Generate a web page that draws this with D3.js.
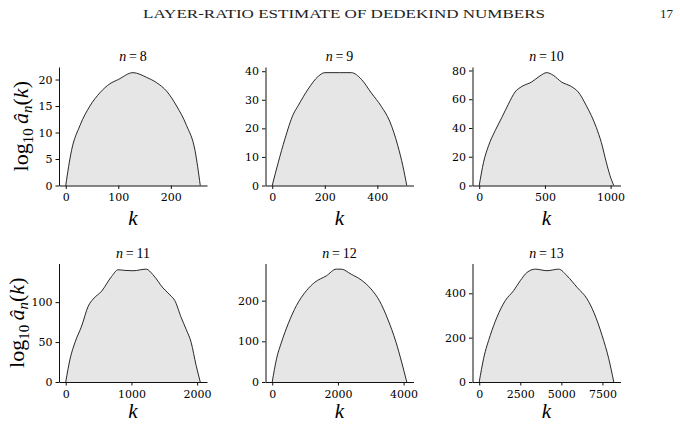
<!DOCTYPE html>
<html>
<head>
<meta charset="utf-8">
<script src="https://cdn.jsdelivr.net/npm/d3@7"></script>
<style>
  body { margin: 0; background: #fff; }
  svg { display: block; }
  .tick text { font-family: "DejaVu Serif", serif; font-size: 11px; fill: #000; }
  .domain, .tick line { stroke: #111; stroke-width: 1; }
</style>
</head>
<body>
<svg id="chart" width="680" height="425"></svg>
<script>
// Values: k and log10 a_n(k)
const n8K = [0, 11, 27, 46, 65, 84, 100, 128, 154, 173, 192, 211, 230, 246, 256]
const n8V = [0, 6.6, 11.3, 15, 17.5, 19.2, 20, 21.3, 20.4, 19.4, 17.8, 15, 11.3, 6.6, 0]

const n9K = [0, 23, 48, 80, 99, 137, 175, 200, 256, 301, 339, 377, 415, 447, 478, 497, 512]
const n9V = [0, 8.1, 16.2, 24.9, 28, 33.8, 38.2, 39.5, 39.5, 39.5, 37.2, 32.4, 27.7, 22.5, 13.9, 6.9, 0]

const n10K = [0, 33, 71, 121, 172, 222, 273, 323, 399, 462, 513, 563, 626, 702, 753, 816, 891, 929, 967, 995, 1024]
const n10V = [0, 16.2, 27.7, 38.1, 47.3, 56.6, 65.1, 68.8, 72, 76.2, 78.5, 76.7, 72, 68.8, 65.1, 55.4, 40.4, 30, 16.2, 7, 0]

const n11K = [0, 66, 141, 242, 343, 419, 545, 697, 798, 899, 1025, 1227, 1328, 1480, 1606, 1657, 1758, 1833, 1909, 1985, 2048]
const n11V = [0, 28.9, 49.6, 70, 95, 104, 113.6, 132, 140.5, 139.7, 139.3, 141.3, 134.3, 117.8, 107.4, 102.5, 80.6, 66, 49.6, 20.7, 0]

const n12K = [0, 131, 283, 485, 737, 1040, 1293, 1646, 1949, 2101, 2404, 2707, 3010, 3262, 3515, 3768, 3939, 4096]
const n12V = [0, 57, 98, 143, 188, 224.5, 245, 261, 277.5, 277.5, 265, 251, 228.6, 200, 155, 98, 49, 0]

const n13K = [0, 264, 671, 1077, 1585, 2093, 2500, 2907, 3415, 4126, 4837, 5346, 5955, 6565, 6972, 7480, 7886, 8192]
const n13V = [0, 105, 210, 292, 367, 412, 457, 494, 509, 502, 509, 479, 427, 375, 315, 210, 105, 0]

// Tick labels
const xTicks = [[0, 100, 200], [0, 200, 400], [0, 500, 1000], [0, 1000, 2000], [0, 2000, 4000], [0, 2500, 5000, 7500]]
const yTicks = [[0, 5, 10, 15, 20], [0, 10, 20, 30, 40], [0, 20, 40, 60, 80], [0, 50, 100], [0, 100, 200], [0, 200, 400]]
const ns = [8, 9, 10, 11, 12, 13]

const header = 'LAYER-RATIO ESTIMATE OF DEDEKIND NUMBERS'
const pageNo = '17'

const panels = ns.map((n, i) => ({
  n: n,
  k: [n8K, n9K, n10K, n11K, n12K, n13K][i],
  v: [n8V, n9V, n10V, n11V, n12V, n13V][i],
  xTicks: xTicks[i],
  yTicks: yTicks[i]
}))

const svg = d3.select('#chart')

// Page header
svg.append('text')
  .attr('x', 143)
  .attr('y', 18)
  .attr('textLength', 402)
  .attr('lengthAdjust', 'spacingAndGlyphs')
  .style('font-family', '"Liberation Serif", serif')
  .style('font-size', '12.5px')
  .style('fill', '#222')
  .text(header)

svg.append('text')
  .attr('x', 673)
  .attr('y', 18)
  .attr('text-anchor', 'end')
  .style('font-family', '"Liberation Serif", serif')
  .style('font-size', '13px')
  .style('fill', '#222')
  .text(pageNo)

const colX = [59, 265.5, 472.5]
const rowY = [67, 263.5]
const pw = 148
const ph = 118.5
const fmt = d3.format('d')

panels.forEach((p, i) => {
  const col = i % 3
  const row = Math.floor(i / 3)
  const N = Math.pow(2, p.n)
  const g = svg.append('g')
    .attr('transform', 'translate(' + colX[col] + ',' + rowY[row] + ')')

  const x = d3.scaleLinear()
    .domain([-0.05 * N, 1.05 * N])
    .range([0, pw])
  const y = d3.scaleLinear()
    .domain([0, d3.max(p.v) * 1.05])
    .range([ph, 0])

  const pts = p.k.map((k, j) => [k, p.v[j]])

  g.append('path')
    .datum(pts)
    .attr('d', d3.area()
      .x(d => x(d[0]))
      .y0(y(0))
      .y1(d => y(d[1]))
      .curve(d3.curveMonotoneX))
    .style('fill', '#e6e6e6')

  g.append('path')
    .datum(pts)
    .attr('d', d3.line()
      .x(d => x(d[0]))
      .y(d => y(d[1]))
      .curve(d3.curveMonotoneX))
    .style('fill', 'none')
    .style('stroke', '#111')
    .style('stroke-width', 0.9)

  g.append('g')
    .attr('transform', 'translate(0,' + ph + ')')
    .call(d3.axisBottom(x).tickValues(p.xTicks).tickFormat(fmt).tickSize(3.5).tickPadding(3).tickSizeOuter(0))
    .selectAll('.tick text').attr('dy', '0.85em')

  g.append('g')
    .call(d3.axisLeft(y).tickValues(p.yTicks).tickFormat(fmt).tickSize(3.5).tickPadding(3).tickSizeOuter(0))

  // Panel title
  const t = g.append('text')
    .attr('x', pw / 2)
    .attr('y', -6)
    .attr('text-anchor', 'middle')
    .style('font-family', '"Liberation Serif", serif')
    .style('font-size', '14px')
    .style('fill', '#000')
  t.append('tspan').style('font-style', 'italic').text('n')
  t.append('tspan').text('\u2009=\u2009' + p.n)

  // x label
  g.append('text')
    .attr('x', pw / 2)
    .attr('y', ph + (row === 0 ? 39 : 36))
    .attr('text-anchor', 'middle')
    .style('font-family', '"Liberation Serif", serif')
    .style('font-style', 'italic')
    .style('font-size', '21px')
    .style('fill', '#000')
    .text('k')

  // y label on the left column
  if (col === 0) {
    const lx = row === 0 ? -31 : -35
    const yl = g.append('text')
      .attr('transform', 'translate(' + lx + ',' + (ph / 2) + ') rotate(-90)')
      .attr('text-anchor', 'middle')
      .style('font-family', '"Liberation Serif", serif')
      .style('font-size', '22px')
      .style('fill', '#000')
    yl.append('tspan').text('log')
    yl.append('tspan').attr('dy', 5).style('font-size', '15px').text('10')
    yl.append('tspan').attr('dy', -5).style('font-style', 'italic').text('\u2009\u00e2')
    yl.append('tspan').attr('dy', 4).style('font-size', '15px').style('font-style', 'italic').text('n')
    yl.append('tspan').attr('dy', -4).text('(')
    yl.append('tspan').style('font-style', 'italic').text('k')
    yl.append('tspan').text(')')
  }
})
</script>
</body>
</html>
